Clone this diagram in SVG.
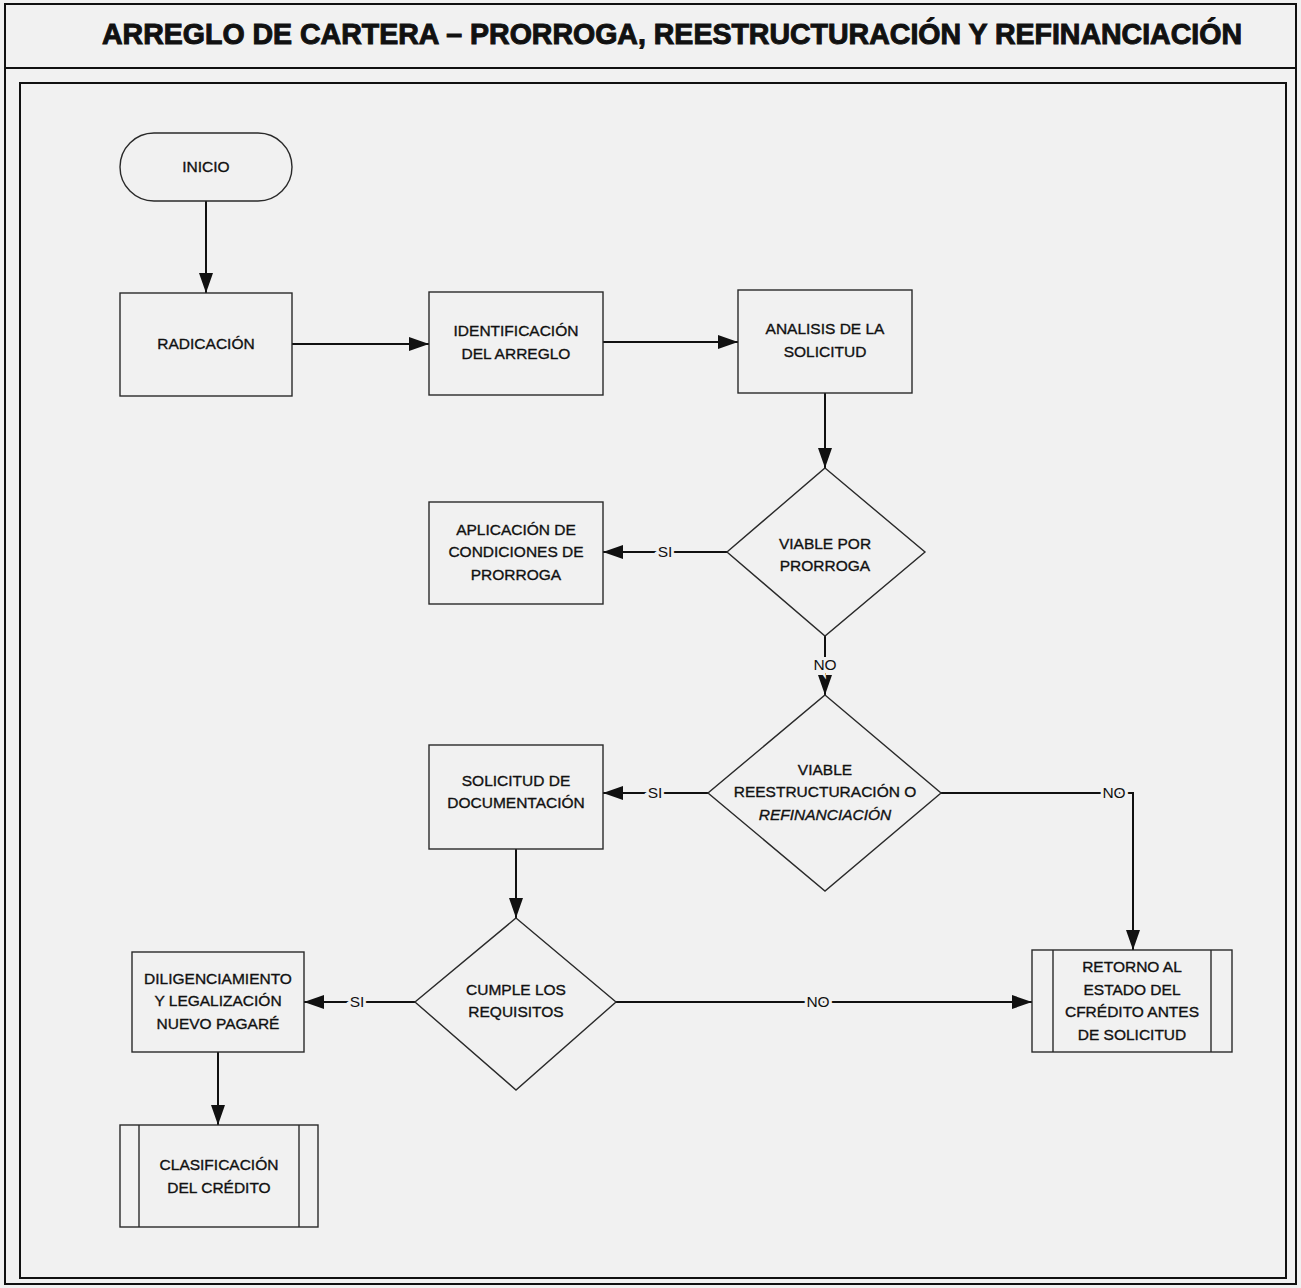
<svg xmlns="http://www.w3.org/2000/svg" width="1301" height="1288" viewBox="0 0 1301 1288">
  <style>
    .frame { fill: none; stroke: #111; stroke-width: 2; }
    .shape { fill: none; stroke: #2a2a2a; stroke-width: 1.4; }
    .conn { fill: none; stroke: #111; stroke-width: 2; }
    .t { font-family: "Liberation Sans", Arial, sans-serif; font-size: 15.5px; fill: #111; stroke: #111; stroke-width: 0.35; text-anchor: middle; }
    .lbl { font-family: "Liberation Sans", Arial, sans-serif; font-size: 15.5px; fill: #111; text-anchor: middle; stroke: #f1f1f1; stroke-width: 6; paint-order: stroke; }
    .title { font-family: "Liberation Sans", Arial, sans-serif; font-size: 29px; font-weight: bold; fill: #111; stroke: #111; stroke-width: 1; text-anchor: middle; }
  </style>
  <defs>
    <marker id="arrow" viewBox="0 0 20 14" refX="20" refY="7" markerWidth="20" markerHeight="14" markerUnits="userSpaceOnUse" orient="auto">
      <path d="M0,0 L20,7 L0,14 z" fill="#111"/>
    </marker>
  </defs>
  <rect x="0" y="0" width="1301" height="1288" fill="#f1f1f1"/>
  <rect class="frame" x="5" y="4" width="1291" height="1280"/>
  <line class="frame" x1="5" y1="68" x2="1296" y2="68"/>
  <rect class="frame" x="20" y="83" width="1266" height="1195"/>
  <text class="title" x="672" y="44" textLength="1140" lengthAdjust="spacingAndGlyphs">ARREGLO DE CARTERA – PRORROGA, REESTRUCTURACIÓN Y REFINANCIACIÓN</text>

  <g id="connectors">
    <line class="conn" x1="206" y1="201" x2="206" y2="293" marker-end="url(#arrow)"/>
    <line class="conn" x1="292" y1="344" x2="429" y2="344" marker-end="url(#arrow)"/>
    <line class="conn" x1="603" y1="342" x2="738" y2="342" marker-end="url(#arrow)"/>
    <line class="conn" x1="825" y1="393" x2="825" y2="468" marker-end="url(#arrow)"/>
    <line class="conn" x1="727" y1="552" x2="603" y2="552" marker-end="url(#arrow)"/>
    <text class="lbl" x="665" y="557">SI</text>
    <line class="conn" x1="825" y1="636" x2="825" y2="695" marker-end="url(#arrow)"/>
    <text class="lbl" x="825" y="670">NO</text>
    <line class="conn" x1="708" y1="793" x2="603" y2="793" marker-end="url(#arrow)"/>
    <text class="lbl" x="655" y="798">SI</text>
    <polyline class="conn" points="941,793 1133,793 1133,950" marker-end="url(#arrow)"/>
    <text class="lbl" x="1114" y="798">NO</text>
    <line class="conn" x1="516" y1="849" x2="516" y2="918" marker-end="url(#arrow)"/>
    <line class="conn" x1="415" y1="1002" x2="304" y2="1002" marker-end="url(#arrow)"/>
    <text class="lbl" x="357" y="1007">SI</text>
    <line class="conn" x1="616" y1="1002" x2="1032" y2="1002" marker-end="url(#arrow)"/>
    <text class="lbl" x="818" y="1007">NO</text>
    <line class="conn" x1="218" y1="1052" x2="218" y2="1125" marker-end="url(#arrow)"/>
  </g>

  <g id="inicio">
    <rect class="shape" x="120" y="133" width="172" height="68" rx="34"/>
    <text class="t" x="206" y="172">INICIO</text>
  </g>
  <g id="radicacion">
    <rect class="shape" x="120" y="293" width="172" height="103"/>
    <text class="t" x="206" y="349">RADICACIÓN</text>
  </g>
  <g id="identificacion">
    <rect class="shape" x="429" y="292" width="174" height="103"/>
    <text class="t" x="516" y="336">IDENTIFICACIÓN</text>
    <text class="t" x="516" y="359">DEL ARREGLO</text>
  </g>
  <g id="analisis">
    <rect class="shape" x="738" y="290" width="174" height="103"/>
    <text class="t" x="825" y="334">ANALISIS DE LA</text>
    <text class="t" x="825" y="357">SOLICITUD</text>
  </g>
  <g id="viable-prorroga">
    <polygon class="shape" points="825,468 925,552 825,636 727,552"/>
    <text class="t" x="825" y="549">VIABLE POR</text>
    <text class="t" x="825" y="571">PRORROGA</text>
  </g>
  <g id="aplicacion">
    <rect class="shape" x="429" y="502" width="174" height="102"/>
    <text class="t" x="516" y="535">APLICACIÓN DE</text>
    <text class="t" x="516" y="557">CONDICIONES DE</text>
    <text class="t" x="516" y="580">PRORROGA</text>
  </g>
  <g id="viable-reestructuracion">
    <polygon class="shape" points="825,695 941,793 825,891 708,793"/>
    <text class="t" x="825" y="775">VIABLE</text>
    <text class="t" x="825" y="797">REESTRUCTURACIÓN O</text>
    <text class="t" x="825" y="820" font-style="italic">REFINANCIACIÓN</text>
  </g>
  <g id="solicitud-documentacion">
    <rect class="shape" x="429" y="745" width="174" height="104"/>
    <text class="t" x="516" y="786">SOLICITUD DE</text>
    <text class="t" x="516" y="808">DOCUMENTACIÓN</text>
  </g>
  <g id="cumple-requisitos">
    <polygon class="shape" points="516,918 616,1002 516,1090 415,1002"/>
    <text class="t" x="516" y="995">CUMPLE LOS</text>
    <text class="t" x="516" y="1017">REQUISITOS</text>
  </g>
  <g id="diligenciamiento">
    <rect class="shape" x="132" y="952" width="172" height="100"/>
    <text class="t" x="218" y="984">DILIGENCIAMIENTO</text>
    <text class="t" x="218" y="1006">Y LEGALIZACIÓN</text>
    <text class="t" x="218" y="1029">NUEVO PAGARÉ</text>
  </g>
  <g id="clasificacion">
    <rect class="shape" x="120" y="1125" width="198" height="102"/>
    <line class="shape" x1="139" y1="1125" x2="139" y2="1227"/>
    <line class="shape" x1="299" y1="1125" x2="299" y2="1227"/>
    <text class="t" x="219" y="1170">CLASIFICACIÓN</text>
    <text class="t" x="219" y="1193">DEL CRÉDITO</text>
  </g>
  <g id="retorno">
    <rect class="shape" x="1032" y="950" width="200" height="102"/>
    <line class="shape" x1="1053" y1="950" x2="1053" y2="1052"/>
    <line class="shape" x1="1211" y1="950" x2="1211" y2="1052"/>
    <text class="t" x="1132" y="972">RETORNO AL</text>
    <text class="t" x="1132" y="995">ESTADO DEL</text>
    <text class="t" x="1132" y="1017">CFRÉDITO ANTES</text>
    <text class="t" x="1132" y="1040">DE SOLICITUD</text>
  </g>
</svg>
